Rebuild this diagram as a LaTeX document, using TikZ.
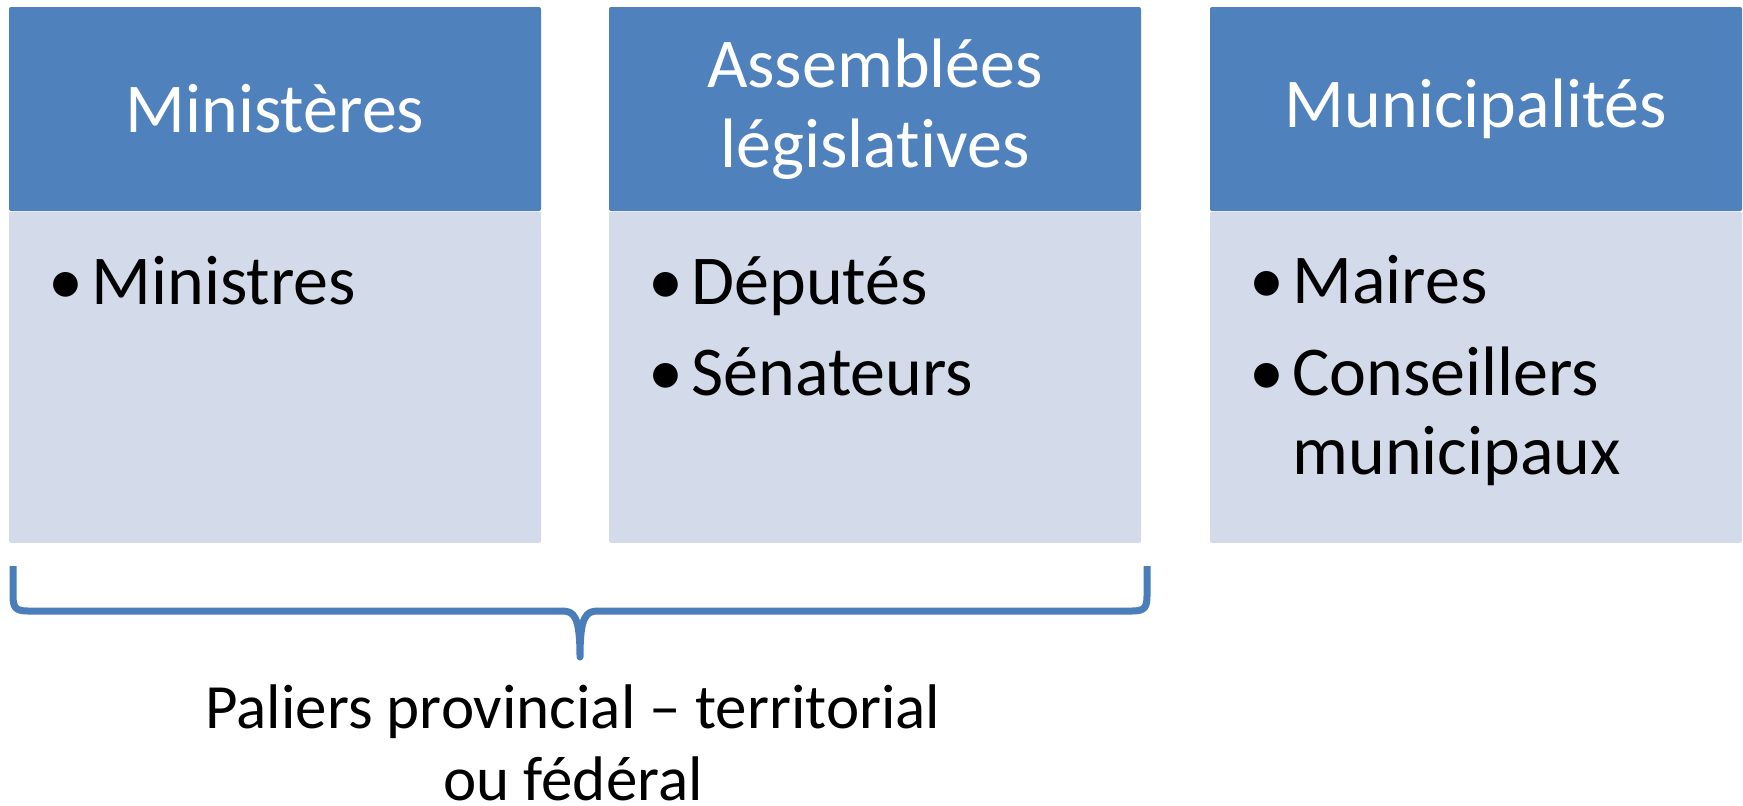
\documentclass[tikz,border=0pt]{standalone}
\usepackage{fontspec}
\setmainfont{Carlito}[Ligatures=NoCommon]
\usepackage{tikz}
\usetikzlibrary{positioning}
\definecolor{HeadBlue}{RGB}{79,129,189}
\definecolor{BodyBlue}{RGB}{211,219,234}
\definecolor{BraceBlue}{RGB}{74,126,187}
\newcommand{\puce}{\makebox[21.5pt][l]{•}}

\begin{document}
\begin{tikzpicture}[x=0.5pt, y=-0.5pt,
  head/.style={rectangle, fill=HeadBlue, text=white, align=center, minimum width=266pt, minimum height=102pt, inner sep=0pt, rounded corners=1pt, font=\fontsize{35}{40}\selectfont},
  body/.style={rectangle, fill=BodyBlue, minimum width=266pt, minimum height=165.5pt, inner sep=0pt, rounded corners=1pt},
  item/.style={anchor=base west, inner sep=0pt, align=left, font=\fontsize{35}{39.5}\selectfont}]
  \useasboundingbox (0,0) rectangle (1743,805);

  \node[head] (h0) at (275,109) {Ministères};
  \node[body, below=0pt of h0] (b0) {};
  \node[item] (i00) at (48,304) {\puce Ministres};

  \node[head] (h1) at (875,109) {Assemblées\\législatives};
  \node[body, below=0pt of h1] (b1) {};
  \node[item] (i10) at (648,304) {\puce Députés};
  \node[item] (i11) at (648,395) {\puce Sénateurs};

  \node[head] (h2) at (1476,109) {Municipalités};
  \node[body, below=0pt of h2] (b2) {};
  \node[item] (i20) at (1249,303) {\puce Maires};
  \node[item] (i21) at (1249,474) {\puce Conseillers\\\hspace*{21.5pt}municipaux};

  % accolade sous les deux premiers blocs
  \draw[BraceBlue, line width=3.5pt, line join=round]
    (13,566) -- (13,596) .. controls (13,608) and (16,611) .. (28,611)
    -- (562,611) .. controls (574,611) and (580,616) .. (580,657)
    .. controls (580,616) and (586,611) .. (598,611)
    -- (1132,611) .. controls (1144,611) and (1147,608) .. (1147,596) -- (1147,566);
  \node[align=center, anchor=base, inner sep=0pt, font=\fontsize{31.5}{36}\selectfont] (pal) at (573,800)
    {Paliers provincial – territorial\\ou fédéral};
\end{tikzpicture}
\end{document}
